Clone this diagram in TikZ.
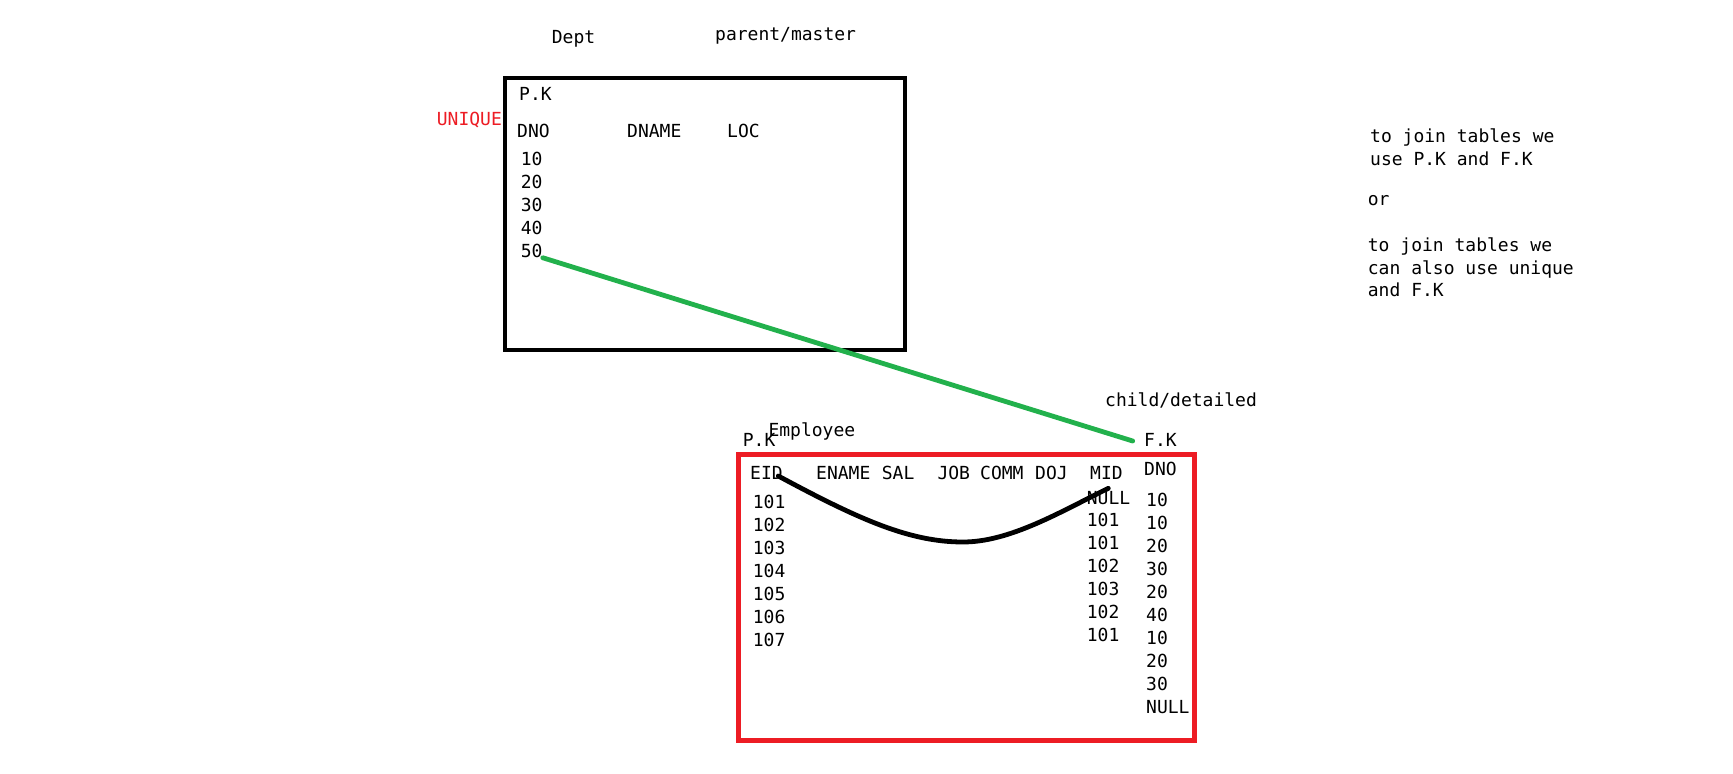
\documentclass[tikz,border=0pt]{standalone}
\usepackage{fontspec}
\setmonofont{DejaVu Sans Mono}
\definecolor{pgreen}{HTML}{22B14C}
\definecolor{pred}{HTML}{ED1C24}
\begin{document}
\begin{tikzpicture}[x=1pt,y=-1pt,
  txt/.style={anchor=base west,inner sep=0pt,font=\fontsize{18}{20}\selectfont\ttfamily},
  tbl/.style={draw,anchor=north west,inner sep=0pt,outer sep=0pt},
  link/.style={line width=4.8pt,line cap=round}]
\useasboundingbox[fill=white] (0,0) rectangle (1733,774);
% Dept table
\node[tbl,line width=4.5pt,minimum width=400pt,minimum height=272pt] (dept) at (505,78) {};
\node[txt] (dtitle) at (551.7,43.5) {Dept};
\node[txt] (parent) at (715,40.5) {parent/master};
\node[txt] (dpk) at (519,100.7) {P.K};
\node[txt,text=pred] (uniq) at (436.7,125) {UNIQUE};
\node[txt] (dno) at (517,137) {DNO};
\node[txt] (dname) at (627,137) {DNAME};
\node[txt] (loc) at (727,137) {LOC};
\node[txt] (d10) at (520.7,165.7) {10};
\node[txt] (d20) at (520.7,188.7) {20};
\node[txt] (d30) at (520.7,211.7) {30};
\node[txt] (d40) at (520.7,234.5) {40};
\node[txt] (d50) at (520.7,257.3) {50};
% Employee table
\node[tbl,draw=pred,line width=5pt,minimum width=456pt,minimum height=285.5pt] (emp) at (738.5,454.5) {};
\node[txt] (epk) at (742.7,446) {P.K};
\node[txt] (etitle) at (768.3,436) {Employee};
\node[txt] (child) at (1105,406.7) {child/detailed};
\node[txt] (fk) at (1144,446) {F.K};
\node[txt] (eid) at (750,479) {EID};
\node[txt] (ename) at (816,479) {ENAME};
\node[txt] (sal) at (881.7,479) {SAL};
\node[txt] (job) at (937.3,479) {JOB};
\node[txt] (comm) at (980,479) {COMM};
\node[txt] (doj) at (1035,479) {DOJ};
\node[txt] (mid) at (1090,479) {MID};
\node[txt] (edno) at (1144,475) {DNO};
\foreach \v [count=\i] in {101,102,103,104,105,106,107}
  \node[txt] (e\i) at (752.7,{508.3+23*(\i-1)}) {\v};
\node[txt] (m0) at (1086.7,504) {NULL};
\foreach \v [count=\i] in {101,101,102,103,102,101}
  \node[txt] (m\i) at (1086.7,{526.7+23*(\i-1)}) {\v};
\foreach \v [count=\i] in {10,10,20,30,20,40,10,20,30,NULL}
  \node[txt] (n\i) at (1146,{506.7+23*(\i-1)}) {\v};
% connectors
\coordinate (gEnd) at (1132.7,441);
\draw[link,draw=pgreen] (d50.south east) -- (gEnd);
\coordinate (cStart) at (778.3,476);
\coordinate (cMid) at (963,542);
\coordinate (cEnd) at (1108.3,488.3);
\draw[link] (cStart) .. controls (860,520) and (910,542) .. (cMid)
  .. controls (1010,542) and (1060,512) .. (cEnd);
% notes
\node[txt] (n1a) at (1370,142.7) {to join tables we};
\node[txt] (n1b) at (1370,165) {use P.K and F.K};
\node[txt] (nor) at (1367.7,205) {or};
\node[txt] (n2a) at (1367.7,251.7) {to join tables we};
\node[txt] (n2b) at (1367.7,274.3) {can also use unique};
\node[txt] (n2c) at (1367.7,296.7) {and F.K};
\end{tikzpicture}
\end{document}
